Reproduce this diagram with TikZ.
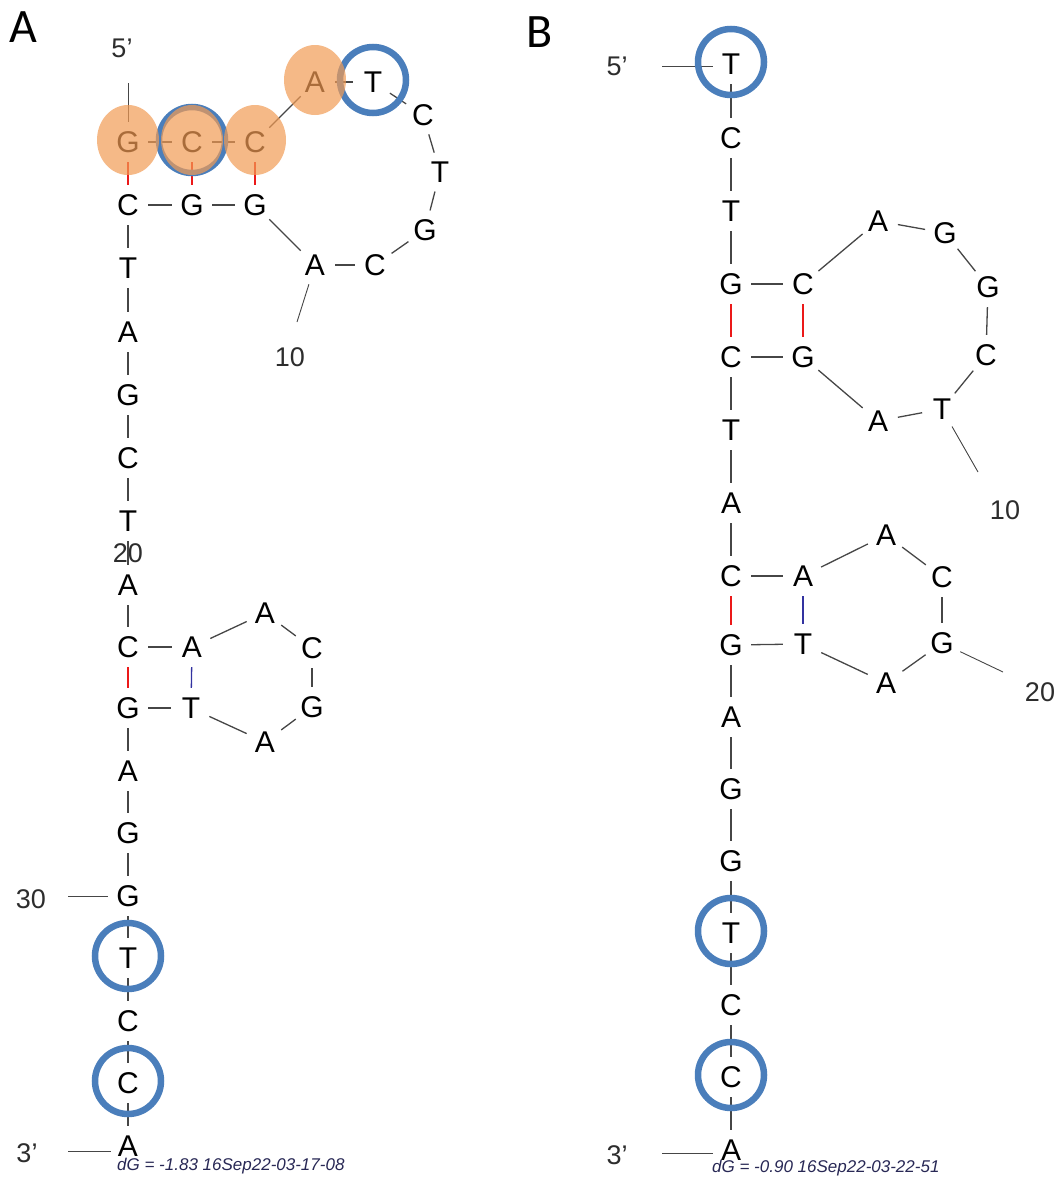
\documentclass[tikz,border=0pt]{standalone}
\usepackage{fontspec}
\setmainfont{Liberation Sans}
\newfontfamily\panelfont{Carlito}
\definecolor{ringblue}{RGB}{74,126,187}
\definecolor{orangefill}{RGB}{241,155,84}
\definecolor{bbgray}{RGB}{70,70,70}
\definecolor{pairred}{RGB}{235,25,25}
\definecolor{pairblue}{RGB}{50,50,160}
\definecolor{dgcol}{RGB}{40,40,85}
\definecolor{numgray}{RGB}{45,45,45}
\tikzset{
 nt/.style={circle,inner sep=0pt,minimum size=40pt,font=\fontsize{30}{34}\selectfont},
 num/.style={inner sep=0pt,text=numgray,font=\fontsize{27}{30}\selectfont},
 panel/.style={inner sep=0pt,font=\panelfont\fontsize{48}{52}\selectfont},
 bbline/.style={draw=bbgray,line width=1.3pt},
 gcpair/.style={draw=pairred,line width=1.3pt},
 atpair/.style={draw=pairblue,line width=1.3pt},
 tickline/.style={draw=bbgray,line width=0.9pt},
 ringline/.style={draw=ringblue,line width=6.5pt},
 hlfill/.style={fill=orangefill,fill opacity=0.7},
 dgtext/.style={inner sep=0pt,anchor=base west,text=dgcol,font=\itshape\fontsize{17}{19}\selectfont}
}
\begin{document}
\begin{tikzpicture}[x=1pt,y=-1pt]
\useasboundingbox (0,0) rectangle (1057,1178);

% ---------------- Panel A ----------------
\node[panel] (pA) at (23,27) {A};
\node[nt] (a1) at (128,142) {G};
\node[nt] (a2) at (192,142) {C};
\node[nt] (a3) at (255,142) {C};
\node[nt] (a4) at (315,82) {A};
\node[nt] (a5) at (373,82) {T};
\node[nt] (a6) at (423,115) {C};
\node[nt] (a7) at (440,172) {T};
\node[nt] (a8) at (425,230) {G};
\node[nt] (a9) at (375,265) {C};
\node[nt] (a10) at (315,265) {A};
\node[nt] (a11) at (255,205) {G};
\node[nt] (a12) at (192,205) {G};
\node[nt] (a13) at (128,205) {C};
\node[nt] (a14) at (128,268) {T};
\node[nt] (a15) at (128,332) {A};
\node[nt] (a16) at (128,395) {G};
\node[nt] (a17) at (128,458) {C};
\node[nt] (a18) at (128,521) {T};
\node[nt] (a19) at (128,585) {A};
\node[nt] (a20) at (128,647) {C};
\node[nt] (a21) at (192,647) {A};
\node[nt] (a22) at (265,613) {A};
\node[nt] (a23) at (312,648) {C};
\node[nt] (a24) at (312,707) {G};
\node[nt] (a25) at (265,742) {A};
\node[nt] (a26) at (191,708) {T};
\node[nt] (a27) at (128,708) {G};
\node[nt] (a28) at (128,771) {A};
\node[nt] (a29) at (128,833) {G};
\node[nt] (a30) at (128,896) {G};
\node[nt] (a31) at (128,958) {T};
\node[nt] (a32) at (128,1021) {C};
\node[nt] (a33) at (128,1083) {C};
\node[nt] (a34) at (128,1146) {A};

\foreach \u/\v in {a1/a2,a2/a3,a3/a4,a4/a5,a5/a6,a6/a7,a7/a8,a8/a9,a9/a10,a10/a11,a11/a12,a12/a13,a13/a14,a14/a15,a15/a16,a16/a17,a17/a18,a18/a19,a19/a20,a20/a21,a21/a22,a22/a23,a23/a24,a24/a25,a25/a26,a26/a27,a27/a28,a28/a29,a29/a30,a30/a31,a31/a32,a32/a33,a33/a34}
  \draw[bbline] (\u) -- (\v);
\foreach \u/\v in {a1/a13,a2/a12,a3/a11,a20/a27}
  \draw[gcpair] (\u) -- (\v);
\draw[atpair] (a21) -- (a26);

\node[num] (l5A) at (122,48) {5’};
\coordinate (c5A) at (128,83);
\draw[tickline] (c5A) -- (a1);
\node[num] (l10A) at (290,357) {10};
\coordinate (c10A) at (297,322);
\draw[tickline] (a10) -- (c10A);
\node[num] (l20A) at (128,553) {20};
\node[num] (l30A) at (31,899) {30};
\coordinate (c30A) at (68,896);
\draw[tickline] (c30A) -- (c30A -| a30.west);
\node[num] (l3A) at (27,1153) {3’};
\coordinate (c3A) at (68,1151);
\draw[tickline] (c3A) -- ([xshift=3pt]c3A -| a34.west);
\node[dgtext] (dgA) at (117,1170) {dG = -1.83 16Sep22-03-17-08};

% ---------------- Panel B ----------------
\node[panel] (pB) at (540,32) {B};
\node[nt] (b1) at (731,64) {T};
\node[nt] (b2) at (731,138) {C};
\node[nt] (b3) at (731,211) {T};
\node[nt] (b4) at (731,284) {G};
\node[nt] (b5) at (803,284) {C};
\node[nt] (b6) at (878,221) {A};
\node[nt] (b7) at (945,233) {G};
\node[nt] (b8) at (988,287) {G};
\node[nt] (b9) at (986,355) {C};
\node[nt] (b10) at (942,409) {T};
\node[nt] (b11) at (878,421) {A};
\node[nt] (b12) at (803,357) {G};
\node[nt] (b13) at (731,357) {C};
\node[nt] (b14) at (731,430) {T};
\node[nt] (b15) at (731,503) {A};
\node[nt] (b16) at (731,576) {C};
\node[nt] (b17) at (803,576) {A};
\node[nt] (b18) at (886,535) {A};
\node[nt] (b19) at (942,577) {C};
\node[nt] (b20) at (942,643) {G};
\node[nt] (b21) at (886,683) {A};
\node[nt] (b22) at (803,644) {T};
\node[nt] (b23) at (731,645) {G};
\node[nt] (b24) at (731,717) {A};
\node[nt] (b25) at (731,789) {G};
\node[nt] (b26) at (731,861) {G};
\node[nt] (b27) at (731,933) {T};
\node[nt] (b28) at (731,1005) {C};
\node[nt] (b29) at (731,1077) {C};
\node[nt] (b30) at (731,1150) {A};

\foreach \u/\v in {b1/b2,b2/b3,b3/b4,b4/b5,b5/b6,b6/b7,b7/b8,b8/b9,b9/b10,b10/b11,b11/b12,b12/b13,b13/b14,b14/b15,b15/b16,b16/b17,b17/b18,b18/b19,b19/b20,b20/b21,b21/b22,b22/b23,b23/b24,b24/b25,b25/b26,b26/b27,b27/b28,b28/b29,b29/b30}
  \draw[bbline] (\u) -- (\v);
\foreach \u/\v in {b4/b13,b5/b12,b16/b23}
  \draw[gcpair] (\u) -- (\v);
\draw[atpair] (b17) -- (b22);

\node[num] (l5B) at (617,66) {5’};
\coordinate (c5B) at (662,66);
\draw[tickline] (c5B) -- ([xshift=2pt]c5B -| b1.west);
\node[num] (l10B) at (1005,510) {10};
\coordinate (c10B) at (978,472);
\draw[tickline] (b10) -- (c10B);
\node[num] (l20B) at (1040,692) {20};
\coordinate (c20B) at (1003,672);
\draw[tickline] (b20) -- (c20B);
\node[num] (l3B) at (617,1155) {3’};
\coordinate (c3B) at (662,1153);
\draw[tickline] (c3B) -- ([xshift=2pt]c3B -| b30.west);
\node[dgtext] (dgB) at (712,1172) {dG = -0.90 16Sep22-03-22-51};

% ---------------- highlight rings ----------------
\foreach \n in {a2,a5,a31,a33,b1,b27,b29}
  \draw[ringline] ([yshift=2pt]\n.center) circle[radius=33pt];
% orange highlights
\foreach \n in {a1,a2,a3,a4}
  \fill[hlfill] ([yshift=2pt]\n.center) ellipse[x radius=31pt,y radius=35pt];
\end{tikzpicture}
\end{document}
